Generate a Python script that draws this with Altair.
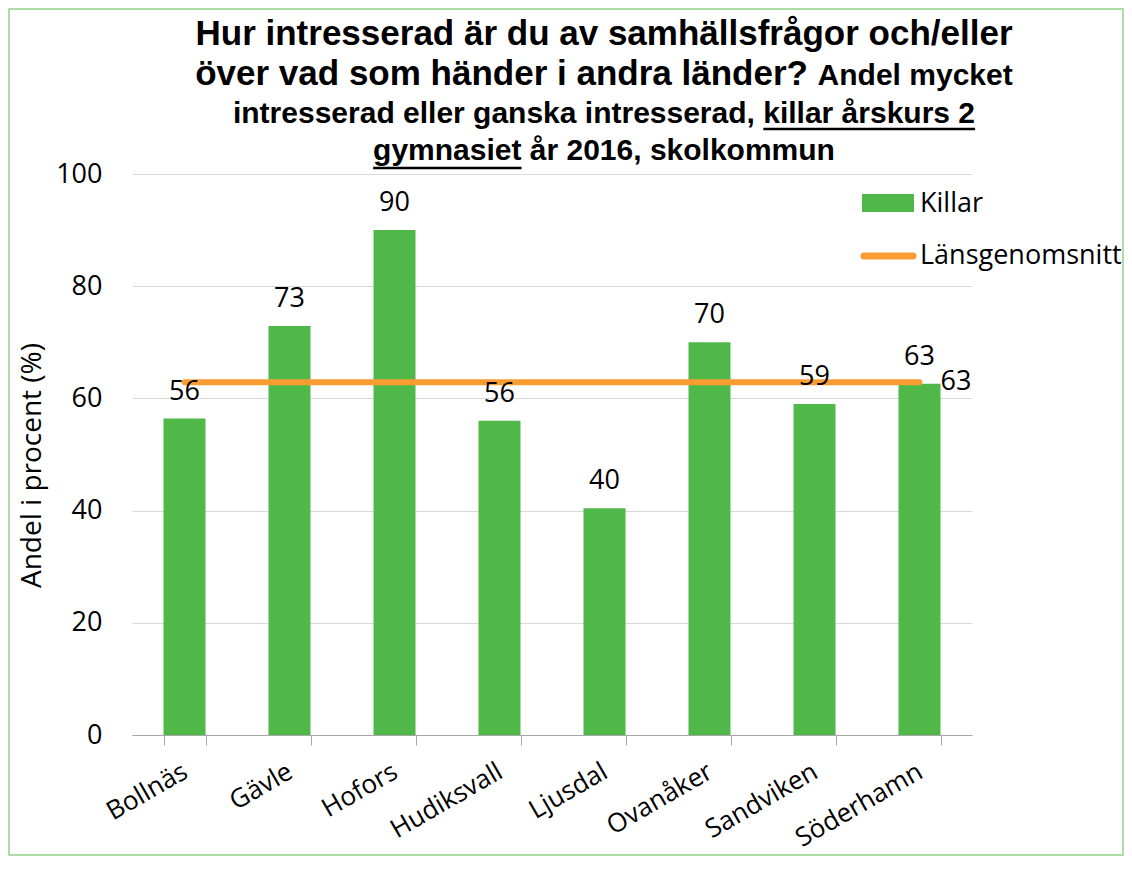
import altair as alt
import pandas as pd

# ---------------- data ----------------
kommuner = ["Bollnäs", "Gävle", "Hofors", "Hudiksvall", "Ljusdal", "Ovanåker", "Sandviken", "Söderhamn"]
killar = [56.4, 72.9, 90.0, 56.0, 40.4, 70.0, 59.0, 62.6]
lansgenomsnitt = [62.9, 62.9, 62.9, 62.9, 62.9, 62.9, 62.9, 62.9]
y_ticks = [0, 20, 40, 60, 80, 100]

title_line1 = "Hur intresserad är du av samhällsfrågor och/eller"
title_line2a = "över vad som händer i andra länder?"
title_line2b = "Andel mycket"
title_line3 = "intresserad eller ganska intresserad, killar årskurs 2"
title_line4 = "gymnasiet år 2016, skolkommun"
legend_labels = ["Killar", "Länsgenomsnitt"]
y_title = "Andel i procent (%)"

# ---------------- style ----------------
GREEN = "#50B848"
ORANGE = "#F99D33"
FRAME = "#92D18A"
FONT = "Open Sans"
TFONT = "Liberation Sans"
BIG = 35
SMALL = 30
LBL = 27

df = pd.DataFrame({"kommun": kommuner, "killar": killar, "snitt": lansgenomsnitt})
one = pd.DataFrame({"k": [0]})

xscale = alt.Scale(domain=kommuner, paddingInner=0.6, paddingOuter=0.3)
xaxis = alt.Axis(title=None, labelAngle=330, labelAlign="right", labelBaseline="top",
                 labelPadding=13, labelOffset=-6, labelFont=FONT, labelFontSize=26,
                 labelLimit=300, labelColor="#000", tickBand="extent", tickSize=10,
                 tickColor="#A6A6A6", domainColor="#A6A6A6", grid=False)
yscale = alt.Scale(domain=[0, 100], nice=False)
yaxis = alt.Axis(values=y_ticks, title=y_title, titleFont=FONT, titleFontSize=28,
                 titleFontWeight="normal", titleColor="#000", titleAngle=270,
                 titleX=-100, titleY=291, titleAlign="center", titleBaseline="middle",
                 labelFont=FONT, labelFontSize=LBL, labelColor="#000", labelPadding=30,
                 ticks=False, domain=False, grid=True, gridColor="#D9D9D9")

X = alt.X("kommun:N", scale=xscale, axis=xaxis, sort=kommuner)


def Y(field):
    return alt.Y(field, type="quantitative", scale=yscale, axis=yaxis)


base = alt.Chart(df)

bars = base.mark_bar(color=GREEN).encode(x=X, y=Y("killar"))
bar_labels = base.mark_text(dy=-19, baseline="alphabetic", font=FONT, fontSize=LBL,
                            color="#000").encode(
    x=X, y=Y("killar"), text=alt.Text("killar:Q", format=".0f"))
line = base.mark_line(color=ORANGE, strokeWidth=6, strokeCap="round").encode(x=X, y=Y("snitt"))
line_label = base.transform_filter(alt.datum.kommun == kommuner[-1]).mark_text(
    align="left", baseline="middle", dx=21, font=FONT, fontSize=LBL, color="#000").encode(
    x=X, y=Y("snitt"), text=alt.Text("snitt:Q", format=".0f"))


def txt(text, x, y, size, align="center", weight="bold", font=TFONT, baseline="alphabetic"):
    return alt.Chart(one).mark_text(text=text, align=align, baseline=baseline, font=font,
                                    fontSize=size, fontWeight=weight, color="#000").encode(
        x=alt.value(x), y=alt.value(y))


def rule(x1, x2, y, color="#000", width=2.5, cap="butt"):
    return alt.Chart(one).mark_rule(color=color, strokeWidth=width, strokeCap=cap).encode(
        x=alt.value(x1), x2=alt.value(x2), y=alt.value(y))


title_layers = [
    txt(title_line1, 472, -129, BIG),
    txt(title_line2a, 63.2, -89, BIG, align="left"),
    txt(title_line2b, 685.6, -89, SMALL, align="left"),
    txt(title_line3, 472, -51, SMALL),
    txt(title_line4, 472, -14, SMALL),
    rule(631.3, 843.1, -45),
    rule(241.1, 389.5, -6),
]

legend_layers = [
    alt.Chart(one).mark_rect(color=GREEN).encode(
        x=alt.value(730), x2=alt.value(782), y=alt.value(20), y2=alt.value(38)),
    txt(legend_labels[0], 788, 30, LBL, align="left", weight="normal", font=FONT, baseline="middle"),
    rule(732, 781, 82, color=ORANGE, width=7, cap="round"),
    txt(legend_labels[1], 788, 82, LBL, align="left", weight="normal", font=FONT, baseline="middle"),
]

frame = alt.Chart(one).mark_rect(fillOpacity=0, stroke=FRAME, strokeWidth=1.5).encode(
    x=alt.value(-123), x2=alt.value(991), y=alt.value(-165), y2=alt.value(681))

chart = alt.layer(
    frame, bars, line, bar_labels, line_label, *title_layers, *legend_layers
).properties(
    width=840, height=561,
    padding={"left": 124, "top": 166, "right": 152, "bottom": 121},
    autosize=alt.AutoSizeParams(type="none"),
).configure_view(stroke=None)

chart.save("out.html", embed_options={"renderer": "svg", "actions": False})
